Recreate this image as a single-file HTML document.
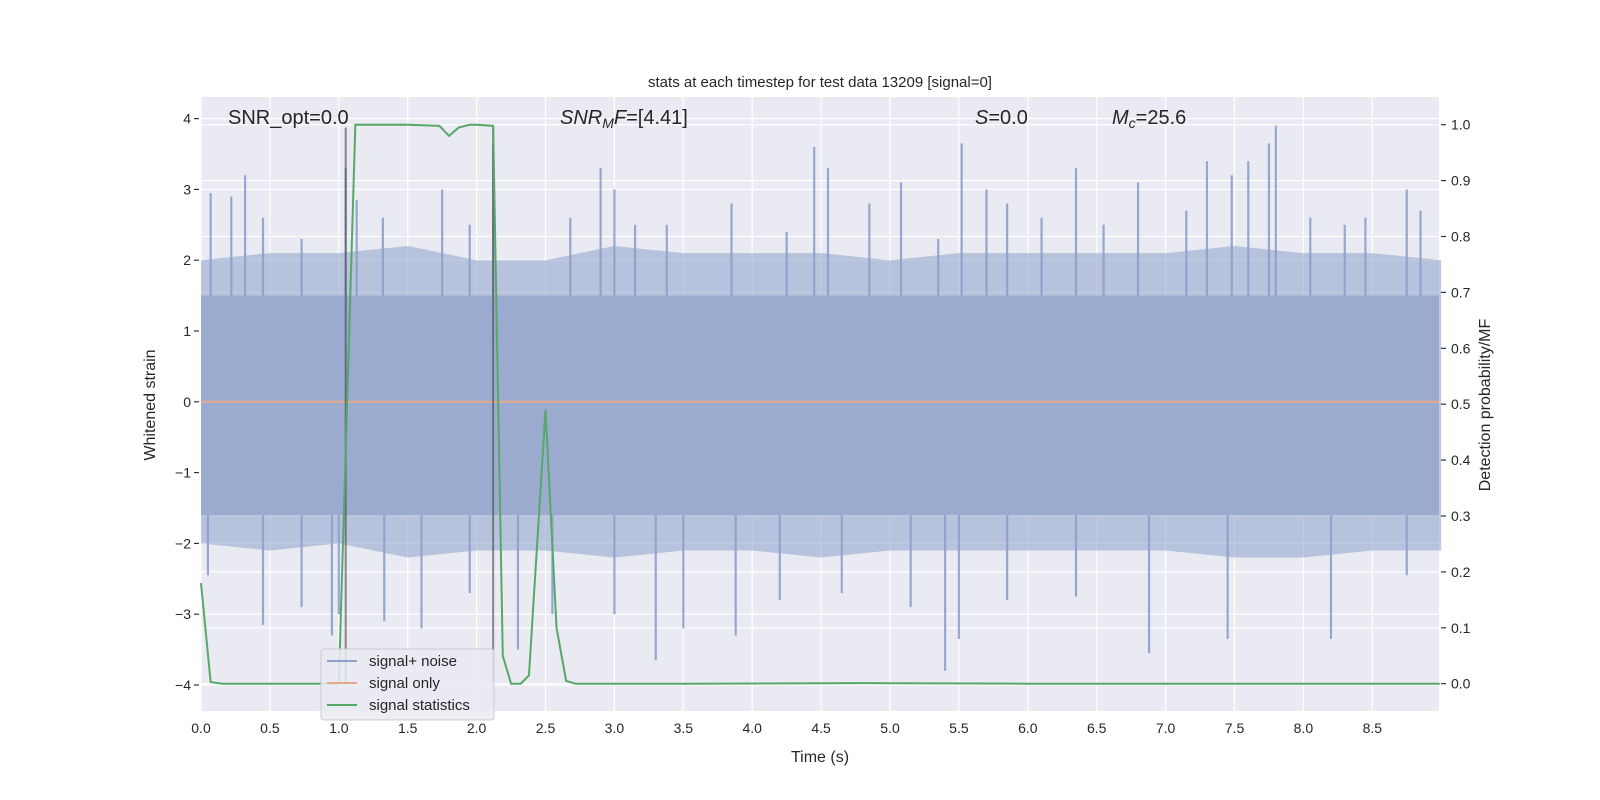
<!DOCTYPE html>
<html><head><meta charset="utf-8"><style>
html,body{margin:0;padding:0;background:#fff;}
svg{display:block;font-family:"Liberation Sans","DejaVu Sans",sans-serif;}
</style></head><body>
<svg id="chart" width="1600" height="800" viewBox="0 0 1600 800" xmlns="http://www.w3.org/2000/svg">
<rect x="0" y="0" width="1600" height="800" fill="#ffffff"/>
<rect x="201" y="97" width="1238" height="614" fill="#eaeaf2"/>
<g id="grid"></g>
<g id="noise"></g>
<g id="sig"></g>
<g id="marks"></g>
<g id="axes"></g>
<text x="820" y="87" font-size="15" text-anchor="middle" fill="#262626">stats at each timestep for test data 13209 [signal=0]</text>
<text x="228" y="124" font-size="20" fill="#262626">SNR_opt=0.0</text>
<text x="560" y="124" font-size="20" fill="#262626"><tspan font-style="italic">SNR</tspan><tspan font-style="italic" font-size="14" dy="4">M</tspan><tspan font-style="italic" dy="-4">F</tspan>=[4.41]</text>
<text x="975" y="124" font-size="20" fill="#262626"><tspan font-style="italic">S</tspan>=0.0</text>
<text x="1112" y="124" font-size="20" fill="#262626"><tspan font-style="italic">M</tspan><tspan font-style="italic" font-size="14" dy="4">c</tspan><tspan dy="-4">=25.6</tspan></text>
<text x="820" y="762" font-size="16" text-anchor="middle" fill="#262626">Time (s)</text>
<text transform="translate(155,405) rotate(-90)" font-size="16" text-anchor="middle" fill="#262626">Whitened strain</text>
<text transform="translate(1490,405) rotate(-90)" font-size="16" text-anchor="middle" fill="#262626">Detection probability/MF</text>
<g>
<rect x="321" y="649" width="173" height="71" rx="3" fill="#eaeaf2" fill-opacity="0.85" stroke="#cccccc"/>
<line x1="327" y1="661" x2="357" y2="661" stroke="#8da0cb" stroke-width="2"/>
<text x="369" y="666" font-size="15" fill="#262626">signal+ noise</text>
<line x1="327" y1="683" x2="357" y2="683" stroke="#e8a98a" stroke-width="2"/>
<text x="369" y="688" font-size="15" fill="#262626">signal only</text>
<line x1="327" y1="705" x2="357" y2="705" stroke="#55a868" stroke-width="2"/>
<text x="369" y="710" font-size="15" fill="#262626">signal statistics</text>
</g>
</svg>
<script>
const xTicks=[0,0.5,1,1.5,2,2.5,3,3.5,4,4.5,5,5.5,6,6.5,7,7.5,8,8.5];
const yTicks=[-4,-3,-2,-1,0,1,2,3,4];
const y2Ticks=[0,0.1,0.2,0.3,0.4,0.5,0.6,0.7,0.8,0.9,1.0];
const statTimes=[0,0.07,0.15,0.5,0.9,1.0,1.06,1.12,1.2,1.5,1.73,1.8,1.87,1.95,2.0,2.12,2.19,2.25,2.32,2.38,2.5,2.58,2.65,2.72,3.5,4.8,6,8.99];
const statValues=[0.18,0.003,0,0,0,0,0.5,1.0,1.0,1.0,0.998,0.98,0.995,1.0,1.0,0.998,0.05,0.0,0.0,0.015,0.49,0.1,0.005,0,0,0.001,0,0];
const eventTimes=[1.05,2.12];
const envTimes=[0,0.5,1,1.5,2,2.5,3,3.5,4,4.5,5,5.5,6,6.5,7,7.5,8,8.5,9];
const envHigh=[2.0,2.1,2.1,2.2,2.0,2.0,2.2,2.1,2.1,2.1,2.0,2.1,2.1,2.1,2.1,2.2,2.1,2.1,2.0];
const envLow=[-2.0,-2.1,-2.0,-2.2,-2.1,-2.1,-2.2,-2.1,-2.1,-2.2,-2.1,-2.1,-2.1,-2.1,-2.1,-2.2,-2.2,-2.1,-2.1];
const bandHigh=1.5, bandLow=-1.6;
const spikeUpT=[0.07,0.22,0.32,0.45,0.73,1.05,1.13,1.32,1.75,1.95,2.12,2.68,2.9,3.0,3.15,3.38,3.85,4.25,4.45,4.55,4.85,5.08,5.35,5.52,5.7,5.85,6.1,6.35,6.55,6.8,7.15,7.3,7.48,7.6,7.75,7.8,8.05,8.3,8.45,8.75,8.85];
const spikeUpV=[2.95,2.9,3.2,2.6,2.3,3.3,2.85,2.6,3.0,2.5,3.65,2.6,3.3,3.0,2.5,2.5,2.8,2.4,3.6,3.3,2.8,3.1,2.3,3.65,3.0,2.8,2.6,3.3,2.5,3.1,2.7,3.4,3.2,3.4,3.65,3.9,2.6,2.5,2.6,3.0,2.7];
const spikeDnT=[0.05,0.45,0.73,0.95,1.0,1.33,1.6,1.95,2.3,2.55,3.0,3.3,3.5,3.88,4.2,4.65,5.15,5.4,5.5,5.85,6.35,6.88,7.45,8.2,8.75];
const spikeDnV=[-2.45,-3.15,-2.9,-3.3,-3.0,-3.1,-3.2,-2.7,-3.5,-3.0,-3.0,-3.65,-3.2,-3.3,-2.8,-2.7,-2.9,-3.8,-3.35,-2.8,-2.75,-3.55,-3.35,-3.35,-2.45];

const NS="http://www.w3.org/2000/svg";
const L=201,R=1439,T=97,B=711;
const x=t=>201+t*137.8;
const y=v=>401.8-v*70.8;
const y2=p=>683.7-p*559;
function mk(tag,attrs,parent){const e=document.createElementNS(NS,tag);for(const k in attrs)e.setAttribute(k,attrs[k]);parent.appendChild(e);return e;}
const grid=document.getElementById('grid'),noise=document.getElementById('noise'),sig=document.getElementById('sig'),marks=document.getElementById('marks'),axes=document.getElementById('axes');

xTicks.forEach(t=>{
 const g=mk('line',{x1:x(t),x2:x(t),y1:T,y2:B,stroke:'#fff','stroke-width':1.2},grid);
 
 
 const tx=mk('text',{x:x(t),y:B+22,'font-size':14,'text-anchor':'middle',fill:'#262626'},axes);
 tx.textContent=t.toFixed(1);
 
 
});
yTicks.forEach(v=>{
 const g=mk('line',{x1:L,x2:R,y1:y(v),y2:y(v),stroke:'#fff','stroke-width':1.2},grid);
 
 
 mk('line',{x1:L-7,x2:L-2,y1:y(v),y2:y(v),stroke:'#333','stroke-width':1.2},axes);
 const tx=mk('text',{x:L-10,y:y(v)+5,'font-size':14,'text-anchor':'end',fill:'#262626'},axes);
 tx.textContent=v<0?'\u2212'+(-v):String(v);
 
 
});
y2Ticks.forEach(p=>{
 const g=mk('line',{x1:L,x2:R,y1:y2(p),y2:y2(p),stroke:'#fff','stroke-width':1.2},grid);
 
 
 mk('line',{x1:R+2,x2:R+7,y1:y2(p),y2:y2(p),stroke:'#333','stroke-width':1.2},axes);
 const tx=mk('text',{x:R+12,y:y2(p)+5,'font-size':14,'text-anchor':'start',fill:'#262626'},axes);
 tx.textContent=p.toFixed(1);
 
 
});

// noise envelope
let pts=envTimes.map((t,i)=>x(t)+','+y(envHigh[i]));
pts=pts.concat(envTimes.slice().reverse().map((t,j)=>x(t)+','+y(envLow[envTimes.length-1-j])));
const env=mk('polygon',{points:pts.join(' '),fill:'#8da0cb','fill-opacity':0.55},noise);


const band=mk('rect',{x:L,y:y(bandHigh),width:R-L,height:y(bandLow)-y(bandHigh),fill:'#9aabcf'},noise);


spikeUpT.forEach((t,i)=>{
 const s=mk('line',{x1:x(t),x2:x(t),y1:y(bandHigh),y2:y(spikeUpV[i]),stroke:'#8da0cb','stroke-width':2.2,'stroke-opacity':0.9},noise);
 
 
});
spikeDnT.forEach((t,i)=>{
 const s=mk('line',{x1:x(t),x2:x(t),y1:y(bandLow),y2:y(spikeDnV[i]),stroke:'#8da0cb','stroke-width':2.2,'stroke-opacity':0.9},noise);
 
 
});
// signal only
const so=mk('line',{x1:L,x2:R,y1:y(0),y2:y(0),stroke:'#e8a98a','stroke-width':2},sig);


// event lines
eventTimes.forEach(t=>{
 const e=mk('line',{x1:x(t),x2:x(t),y1:y2(0.995),y2:y2(0),stroke:'#444','stroke-opacity':0.6,'stroke-width':2},marks);
 
 
});
// statistics line
const sp=mk('polyline',{points:statTimes.map((t,i)=>x(t)+','+y2(statValues[i])).join(' '),fill:'none',stroke:'#55a868','stroke-width':2},marks);


</script>
</body></html>
